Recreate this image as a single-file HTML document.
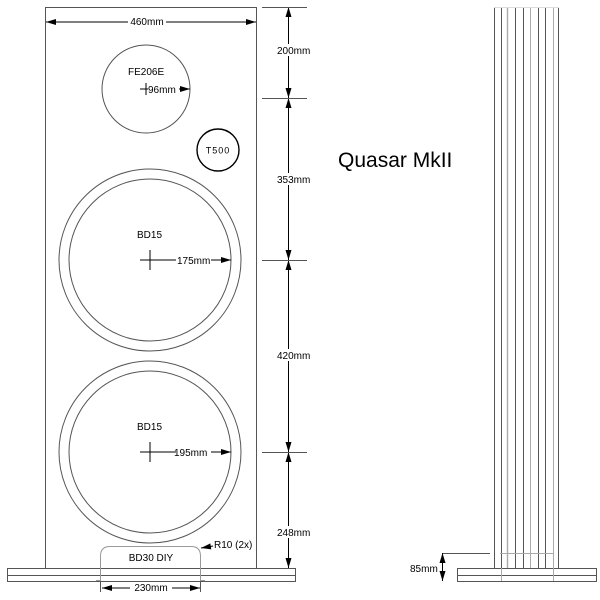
<!DOCTYPE html>
<html><head><style>body{margin:0;background:#fff}svg{display:block}</style></head><body>
<svg width="600" height="600" viewBox="0 0 600 600" xmlns="http://www.w3.org/2000/svg" font-family="Liberation Sans, sans-serif" font-size="10" fill="none" stroke="#555" stroke-width="1">
<defs>
<marker id="a" viewBox="0 0 10 6" refX="10" refY="3" markerWidth="10" markerHeight="6" orient="auto-start-reverse" markerUnits="userSpaceOnUse"><path d="M0,0L10,3L0,6z" fill="#000" stroke="none"/></marker>
</defs>
<rect x="45.5" y="7.5" width="211" height="561"/>
<rect x="7.5" y="568.5" width="288" height="13"/>
<line x1="7" y1="575.5" x2="295" y2="575.5"/>
<path d="M100.5,581 V556 Q100.5,546.5 110,546.5 H191 Q200.5,546.5 200.5,556 V581" stroke="#999"/>
<line x1="96" y1="580.5" x2="100" y2="580.5" stroke="#999"/><line x1="201" y1="580.5" x2="205" y2="580.5" stroke="#999"/>
<circle cx="146" cy="89" r="44"/>
<circle cx="218" cy="150" r="21" stroke="#000" stroke-width="1.4"/>
<circle cx="150" cy="260" r="91"/><circle cx="150" cy="260" r="81"/>
<circle cx="150" cy="452" r="91"/><circle cx="150" cy="452" r="81"/>
<g stroke="#000">
<line x1="46" y1="22" x2="128" y2="22" marker-start="url(#a)"/><line x1="166" y1="22" x2="256" y2="22" marker-end="url(#a)"/>
<line x1="140" y1="89" x2="148" y2="89"/><line x1="146" y1="83" x2="146" y2="95"/>
<line x1="179" y1="89" x2="190" y2="89" marker-end="url(#a)"/>
<line x1="140" y1="260" x2="176" y2="260"/><line x1="150" y1="250" x2="150" y2="270"/>
<line x1="211" y1="260" x2="231" y2="260" marker-end="url(#a)"/>
<line x1="140" y1="452" x2="176" y2="452"/><line x1="150" y1="442" x2="150" y2="462"/>
<line x1="211" y1="452" x2="231" y2="452" marker-end="url(#a)"/>
<line x1="102" y1="588" x2="130" y2="588" marker-start="url(#a)"/><line x1="172" y1="588" x2="200" y2="588" marker-end="url(#a)"/>
<line x1="213" y1="546" x2="201" y2="548" marker-end="url(#a)"/>
<line x1="288.5" y1="7" x2="288.5" y2="98" marker-start="url(#a)" marker-end="url(#a)"/>
<line x1="288.5" y1="98" x2="288.5" y2="260" marker-start="url(#a)" marker-end="url(#a)"/>
<line x1="288.5" y1="260" x2="288.5" y2="452" marker-start="url(#a)" marker-end="url(#a)"/>
<line x1="288.5" y1="452" x2="288.5" y2="568" marker-start="url(#a)" marker-end="url(#a)"/>
</g>
<g stroke="#555">
<line x1="262" y1="7.5" x2="307" y2="7.5"/><line x1="262" y1="98.5" x2="307" y2="98.5"/>
<line x1="262" y1="260.5" x2="307" y2="260.5"/><line x1="262" y1="452.5" x2="307" y2="452.5"/>
<line x1="100.5" y1="582" x2="100.5" y2="592"/><line x1="200.5" y1="582" x2="200.5" y2="592"/>
</g>
<g fill="#fff" stroke="none">
<rect x="276" y="44" width="34" height="12"/><rect x="276" y="173" width="34" height="12"/>
<rect x="276" y="349" width="34" height="12"/><rect x="276" y="526" width="34" height="12"/>
</g>
<g stroke="#555">
<line x1="494.5" y1="7" x2="494.5" y2="568"/><line x1="501.5" y1="7" x2="501.5" y2="568"/>
<line x1="507.5" y1="7" x2="507.5" y2="568" stroke="#aaa" stroke-width="1.4"/><line x1="515.5" y1="7" x2="515.5" y2="568"/>
<line x1="523.5" y1="7" x2="523.5" y2="568"/><line x1="530.5" y1="7" x2="530.5" y2="568" stroke="#aaa"/>
<line x1="538.5" y1="7" x2="538.5" y2="568"/><line x1="545.5" y1="7" x2="545.5" y2="568"/>
<line x1="553.5" y1="7" x2="553.5" y2="568" stroke="#aaa"/><line x1="558.5" y1="7" x2="558.5" y2="568"/>
<line x1="494" y1="7.5" x2="559" y2="7.5" stroke="#ddd"/>
<rect x="457.5" y="568.5" width="139" height="13"/>
<line x1="457" y1="575.5" x2="596" y2="575.5"/>
<line x1="500" y1="553.5" x2="553" y2="553.5" stroke="#aaa"/>
<line x1="443" y1="553.5" x2="490" y2="553.5"/>
<line x1="501.5" y1="568" x2="501.5" y2="581" stroke="#aaa"/><line x1="553.5" y1="568" x2="553.5" y2="581" stroke="#aaa"/>
</g>
<line x1="442.5" y1="553" x2="442.5" y2="581" stroke="#000" marker-start="url(#a)" marker-end="url(#a)"/>
<g fill="#000" stroke="none" font-size="10">
<text x="147" y="25" text-anchor="middle">460mm</text>
<text x="128" y="75">FE206E</text>
<text x="148" y="93">96mm</text>
<text x="218" y="153.5" text-anchor="middle" font-size="9" letter-spacing="1">T500</text>
<text x="137" y="238">BD15</text>
<text x="177" y="264">175mm</text>
<text x="137" y="430">BD15</text>
<text x="174" y="456">195mm</text>
<text x="151" y="561" text-anchor="middle">BD30 DIY</text>
<text x="151" y="591" text-anchor="middle">230mm</text>
<text x="214" y="548">R10 (2x)</text>
<text x="277" y="54">200mm</text>
<text x="277" y="183">353mm</text>
<text x="277" y="359">420mm</text>
<text x="277" y="536">248mm</text>
<text x="410" y="572">85mm</text>
<text x="338" y="167" font-size="21">Quasar MkII</text>
</g>
</svg>
</body></html>
